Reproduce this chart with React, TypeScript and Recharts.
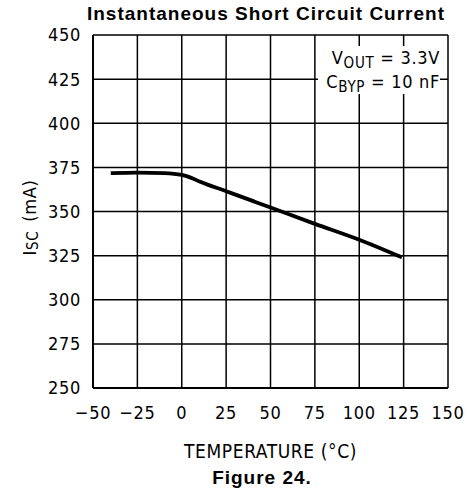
import React from 'react';
import { LineChart, Line, XAxis, YAxis, CartesianGrid, Label } from 'recharts';

// Short-circuit current vs temperature
const temps = [-40, -25, -10, 0, 5, 10, 25, 50, 75, 100, 124];
const iscValues = [371.7, 372, 371.7, 370.7, 369.2, 367, 361.5, 352.3, 343, 334, 324];

const xTicks = [-50, -25, 0, 25, 50, 75, 100, 125, 150];
const yTicks = [250, 275, 300, 325, 350, 375, 400, 425, 450];

const chartData = temps.map((t, i) => ({ temp: t, isc: iscValues[i] }));

const tickFont = "'DejaVu Sans Condensed', 'DejaVu Sans', sans-serif";
const boldFont = "'Liberation Sans', Arial, sans-serif";
const tickStyle = { fontStretch: 'condensed', letterSpacing: '0.7px' } as React.CSSProperties;

// use a real minus sign like the original
const fmtTick = (v: number) => (v < 0 ? `\u2212${Math.abs(v)}` : `${v}`);

const YLabel = (props: any) => {
    const vb = props.viewBox || { x: 0, y: 0, width: 0, height: 0 };
    const cx = vb.x + 29;
    const cy = vb.y + vb.height / 2 + 6;
    return (
        <text
            x={cx}
            y={cy}
            transform={`rotate(-90 ${cx} ${cy})`}
            textAnchor="middle"
            dominantBaseline="central"
            fontFamily={tickFont}
            fontSize={18}
            fill="#000"
            style={tickStyle}
        >
            <tspan>I</tspan>
            <tspan fontSize={15} dy={4}>SC</tspan>
            <tspan dy={-4} dx={9}>(mA)</tspan>
        </text>
    );
};

const App: React.FC = () => {
    return (
        <div style={{ position: 'absolute', left: 0, top: 0, width: 470, height: 492, background: '#fff' }}>
            <div
                style={{
                    position: 'absolute', left: 0, width: 532, top: 3, textAlign: 'center',
                    fontFamily: boldFont, fontWeight: 'bold', fontSize: 19, letterSpacing: 1,
                    lineHeight: '22px', color: '#000',
                }}
            >
                Instantaneous Short Circuit Current
            </div>
            <LineChart width={470} height={492} data={chartData} margin={{ top: 35, right: 22, bottom: 0, left: 0 }}>
                <CartesianGrid stroke="#000" strokeWidth={1.5} horizontalValues={yTicks} verticalValues={xTicks} />
                <XAxis
                    dataKey="temp"
                    type="number"
                    domain={[-50, 150]}
                    ticks={xTicks}
                    tickFormatter={fmtTick}
                    height={104}
                    tickLine={false}
                    tickSize={0}
                    tickMargin={18}
                    axisLine={{ stroke: '#000', strokeWidth: 2 }}
                    tick={{ fill: '#000', fontSize: 18, fontFamily: tickFont, style: tickStyle }}
                >
                    <Label
                        value="TEMPERATURE (°C)"
                        position="insideTop"
                        offset={57}
                        fill="#000"
                        fontSize={19}
                        fontFamily={tickFont}
                        style={{ fontStretch: 'condensed', letterSpacing: '0.6px' }}
                    />
                </XAxis>
                <YAxis
                    type="number"
                    domain={[250, 450]}
                    ticks={yTicks}
                    width={93}
                    tickLine={false}
                    tickSize={0}
                    tickMargin={12}
                    axisLine={{ stroke: '#000', strokeWidth: 2 }}
                    tick={{ fill: '#000', fontSize: 18, fontFamily: tickFont, style: tickStyle }}
                    label={<YLabel />}
                />
                <Line
                    type="monotone"
                    dataKey="isc"
                    stroke="#000"
                    strokeWidth={3.8}
                    dot={false}
                    isAnimationActive={false}
                />
            </LineChart>
            {/* condition box in the top right corner of the plot */}
            <div
                style={{
                    position: 'absolute', left: 318, top: 46, width: 122, height: 48, background: '#fff',
                    fontFamily: tickFont, fontSize: 18, lineHeight: '24px', color: '#000', textAlign: 'right',
                    ...tickStyle,
                }}
            >
                <div>V<sub style={{ fontSize: 15, verticalAlign: '-4px', lineHeight: 0 }}>OUT</sub> = 3.3V</div>
                <div>C<sub style={{ fontSize: 15, verticalAlign: '-4px', lineHeight: 0 }}>BYP</sub> = 10 nF</div>
            </div>
            <div
                style={{
                    position: 'absolute', left: 0, width: 524, top: 467, textAlign: 'center',
                    fontFamily: boldFont, fontWeight: 'bold', fontSize: 19, letterSpacing: 1,
                    lineHeight: '22px', color: '#000',
                }}
            >
                Figure 24.
            </div>
        </div>
    );
};

export default App;
